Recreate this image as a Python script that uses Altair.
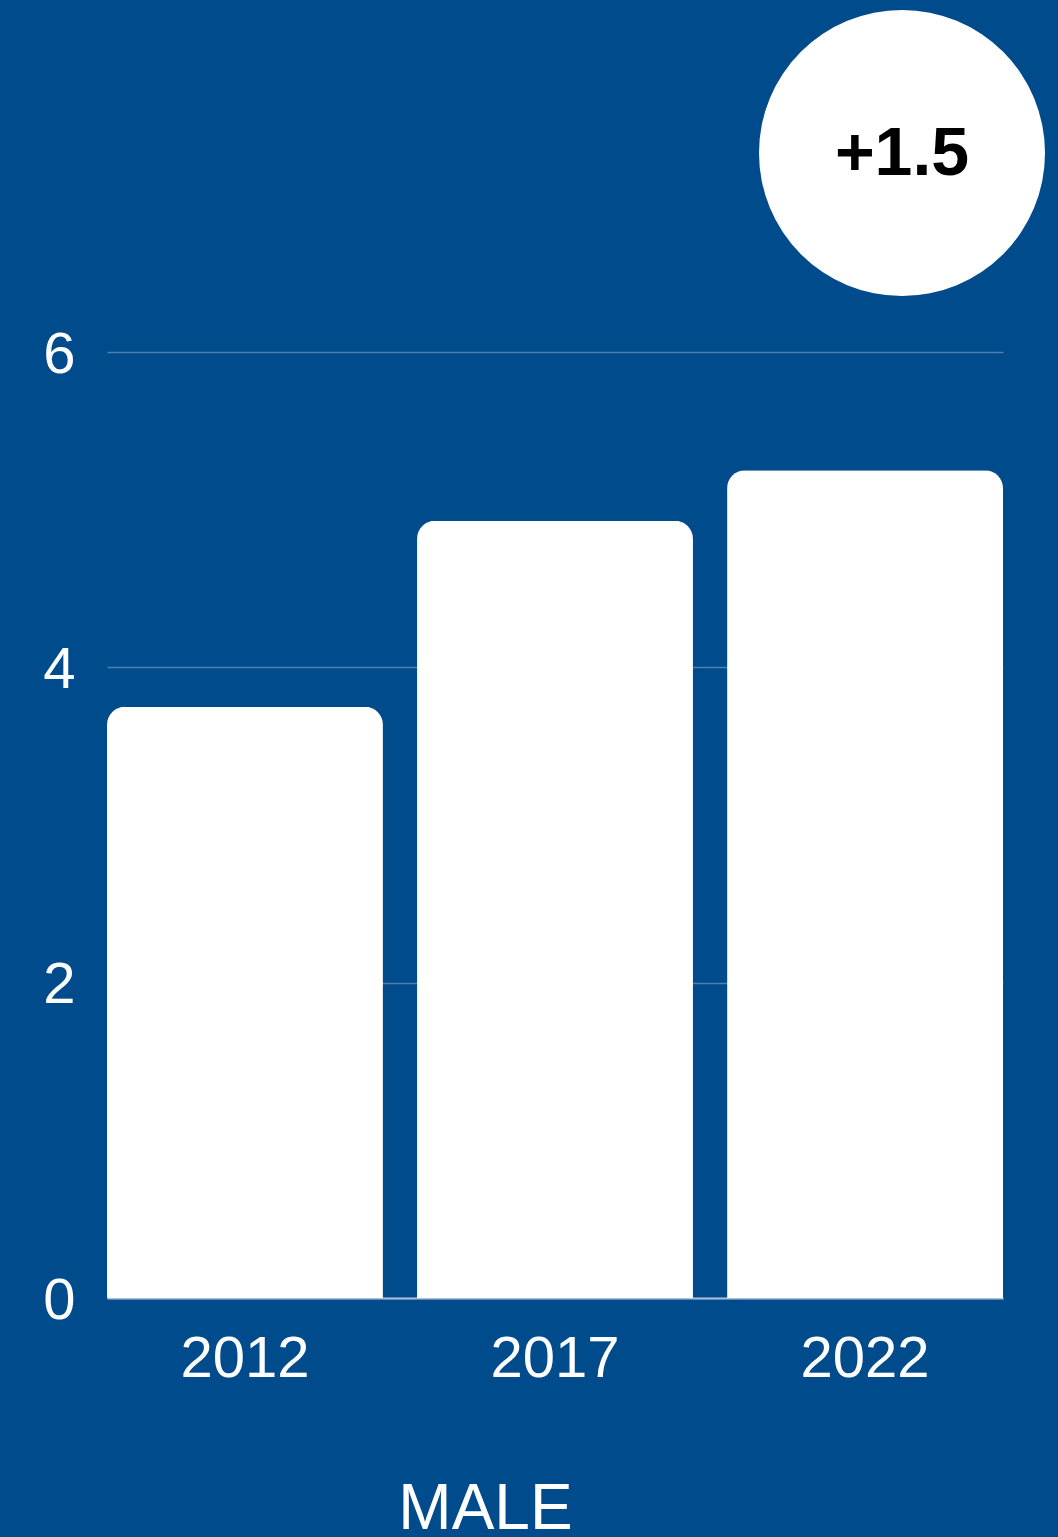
import altair as alt
import pandas as pd

years = ["2012", "2017", "2022"]
values = [3.75, 4.93, 5.25]
change_label = ["+1.5"]
group_title = "MALE"

BG = "#004b8c"
FONT = "Liberation Sans"

df = pd.DataFrame({"year": years, "value": values})
ann = pd.DataFrame({"label": change_label})

bars = alt.Chart(df).mark_bar(
    color="white", cornerRadiusTopLeft=18, cornerRadiusTopRight=18
).encode(
    x=alt.X(
        "year:N",
        sort=years,
        scale=alt.Scale(paddingInner=0.11, paddingOuter=0),
        axis=alt.Axis(
            title=group_title,
            titleFont=FONT,
            titleFontSize=64,
            titleFontWeight="normal",
            titleColor="white",
            titleX=378,
            titleY=230,
            titleBaseline="alphabetic",
            titleAnchor="start",
            titleAlign="center",
            labelFont=FONT,
            labelFontSize=58,
            labelColor="white",
            labelAngle=0,
            labelPadding=32,
            ticks=False,
            domain=True,
            domainColor="#a9bfd8",
            domainWidth=2,
            grid=False,
        ),
    ),
    y=alt.Y(
        "value:Q",
        scale=alt.Scale(domain=[0, 6], nice=False),
        axis=alt.Axis(
            title=None,
            values=[0, 2, 4, 6],
            labelFont=FONT,
            labelFontSize=58,
            labelColor="white",
            labelPadding=32,
            labelOffset=3,
            ticks=False,
            domain=False,
            grid=True,
            gridColor="#4f7eb0",
            gridWidth=1.5,
        ),
    ),
)

circle = alt.Chart(ann).mark_point(
    shape="circle", filled=True, color="white", opacity=1, size=81800
).encode(x=alt.value(795), y=alt.value(-199))

label = alt.Chart(ann).mark_text(
    font=FONT, fontSize=68, fontWeight="bold", color="black",
    align="center", baseline="middle",
).encode(x=alt.value(795), y=alt.value(-197), text="label:N")

chart = alt.layer(bars, circle, label).properties(
    width=896,
    height=946,
    background=BG,
    autosize=alt.AutoSizeParams(type="none"),
    padding={"left": 107, "top": 352, "right": 55, "bottom": 239},
).configure_view(stroke=None)

chart.save("out.html", embed_options={"renderer": "svg", "actions": False})
